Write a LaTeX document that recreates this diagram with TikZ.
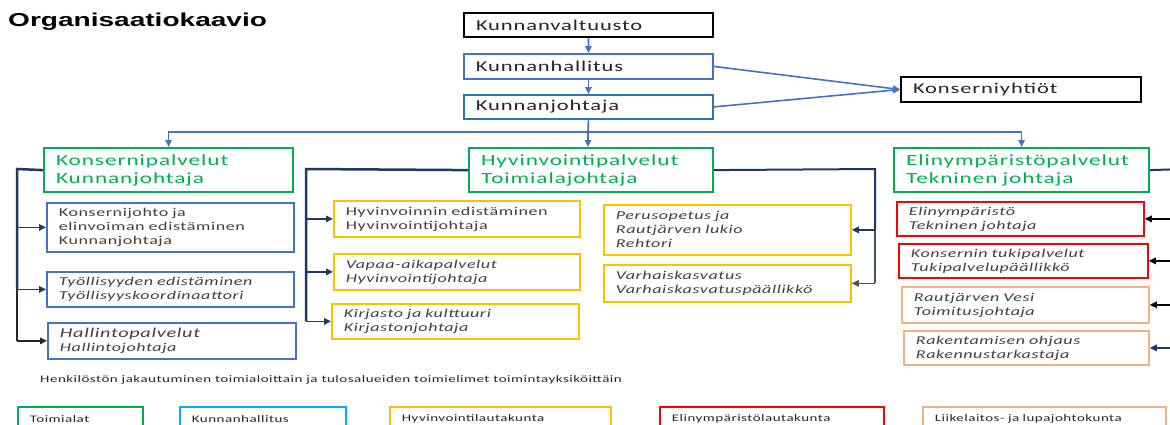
\documentclass[tikz,border=0pt]{standalone}
\usepackage{fontspec}
\usetikzlibrary{arrows.meta}
\newfontfamily\titlefont[FakeStretch=1.5]{Liberation Sans}
\newfontfamily\cbf[FakeStretch=1.5,LetterSpace=6]{Carlito}
\newfontfamily\csf[FakeStretch=1.5,LetterSpace=5]{Carlito}
\definecolor{cblue}{HTML}{4472C4}
\definecolor{cblue2}{HTML}{2E75B6}
\definecolor{cgreen}{HTML}{00B050}
\definecolor{cnavy}{HTML}{1F3864}
\definecolor{cslate}{HTML}{44546A}
\definecolor{cyel}{HTML}{FFC000}
\definecolor{cred}{HTML}{FF0000}
\definecolor{cpeach}{HTML}{F4B183}
\definecolor{clblue}{HTML}{00B0F0}
\definecolor{ctext}{HTML}{404040}
\definecolor{cdark}{HTML}{262626}
\tikzset{
  bx/.style={draw, line width=1.8pt, anchor=north west, inner xsep=12pt, inner ysep=0pt,
    align=left, font=\csf\fontsize{12}{14}\selectfont, text=ctext},
  topbox/.style={bx, font=\cbf\fontsize{15}{18}\selectfont, text=cdark},
  grn/.style={bx, draw=cgreen, line width=2.2pt, text=cgreen, font=\cbf\fontsize{15.5}{18}\selectfont},
  it/.style={font=\csf\itshape\fontsize{12}{14}\selectfont},
  leg/.style={bx, minimum height=24pt, text=cdark, font=\csf\fontsize{10}{12}\selectfont},
  tip/.style={-{Triangle[length=7pt,width=6.5pt]}},
  topline/.style={cblue, line width=1.6pt},
  trunk/.style={cnavy, line width=2.5pt},
  branch/.style={tip, cnavy, line width=1.5pt}
}
\begin{document}
\begin{tikzpicture}[x=1pt,y=-1pt]
\fill[white] (0,0) rectangle (1170,424);
\useasboundingbox (0,0) rectangle (1170,424);

\node[anchor=base west, inner sep=0pt, font=\titlefont\bfseries\fontsize{18.7}{20}\selectfont] (title) at (8,26.5) {Organisaatiokaavio};

% top chain
\node[topbox, draw=black, line width=2pt, text width=225pt, minimum height=24pt] (kv) at (463,12) {Kunnanvaltuusto};
\node[topbox, draw=cblue, text width=225pt, minimum height=25pt] (kh) at (463,53) {Kunnanhallitus};
\node[topbox, draw=cblue2, text width=225pt, minimum height=24pt] (kj) at (463,94) {Kunnanjohtaja};
\node[topbox, draw=black, line width=2pt, text width=216pt, minimum height=25pt] (ky) at (900,76) {Konserniyhtiöt};

% green heads
\node[grn, text width=225pt, minimum height=44pt] (g1) at (43,147) {Konsernipalvelut\\Kunnanjohtaja};
\node[grn, text width=220pt, minimum height=44pt] (g2) at (468,147) {Hyvinvointipalvelut\\Toimialajohtaja};
\node[grn, text width=231pt, minimum height=44pt] (g3) at (893,147) {Elinympäristöpalvelut\\Tekninen johtaja};

% left column
\node[bx, draw=cblue, text width=223pt, minimum height=49pt] (s1) at (46,202) {Konsernijohto ja\\elinvoiman edistäminen\\Kunnanjohtaja};
\node[bx, it, draw=cblue, text width=223pt, minimum height=35pt] (s2) at (46,271) {Työllisyyden edistäminen\\Työllisyyskoordinaattori};
\node[bx, it, draw=cblue, text width=224pt, minimum height=36pt] (s3) at (47,322) {{\fontsize{13.5}{14}\selectfont Hallintopalvelut}\\Hallintojohtaja};

% middle column
\node[bx, draw=cyel, text width=222pt, minimum height=36pt] (m1) at (333,200) {Hyvinvoinnin edistäminen\\Hyvinvointijohtaja};
\node[bx, it, draw=cyel, text width=222pt, minimum height=36pt] (m2) at (333,253) {Vapaa-aikapalvelut\\Hyvinvointijohtaja};
\node[bx, it, draw=cyel, text width=223pt, minimum height=35pt] (m3) at (331,303) {Kirjasto ja kulttuuri\\Kirjastonjohtaja};
\node[bx, it, draw=cyel, text width=223pt, minimum height=50pt] (p1) at (603,204) {Perusopetus ja\\Rautjärven lukio\\Rehtori};
\node[bx, it, draw=cyel, text width=223pt, minimum height=37pt] (p2) at (603,264) {Varhaiskasvatus\\Varhaiskasvatuspäällikkö};

% right column
\node[bx, it, draw=cred, text width=223pt, minimum height=34pt] (r1) at (896,201) {Elinympäristö\\Tekninen johtaja};
\node[bx, it, draw=cred, text width=225pt, minimum height=34pt] (r2) at (898,243) {Konsernin tukipalvelut\\Tukipalvelupäällikkö};
\node[bx, it, draw=cpeach, text width=223pt, minimum height=36pt] (r3) at (901,286) {Rautjärven Vesi\\Toimitusjohtaja};
\node[bx, it, draw=cpeach, text width=221pt, minimum height=34pt] (r4) at (903,330) {Rakentamisen ohjaus\\Rakennustarkastaja};

% top connectors
\draw[topline, tip] (kv.south) -- (kh.north);
\draw[topline, tip] (kh.south) -- (kj.north);
\draw[topline, tip] (kh.east) -- (ky.west);
\draw[topline, tip] (kj.east) -- (ky.west);
\coordinate (hb) at (588,132);
\draw[topline] (kj.south) -- (hb);
\draw[topline, tip] (hb) -| (g1.north);
\draw[topline, tip] (hb) -- (g2.north -| hb);
\draw[topline, tip] (hb) -| (g3.north);

% left trunk
\coordinate (L) at (17,169);
\draw[trunk] (g1.west) -- (L) -- (L |- s2.west);
\draw[trunk, black!85] (L |- s2.west) -- (L |- s3.west);
\draw[branch] (L |- s1.west) -- (s1.west);
\draw[branch] (L |- s2.west) -- (s2.west);
\draw[branch, black!85] (L |- s3.west) -- (s3.west);

% middle-left trunk
\coordinate (M) at (306,169);
\draw[trunk] (g2.west) -- (M) -- (M |- m3.west);
\draw[branch] (M |- m1.west) -- (m1.west);
\draw[branch] (M |- m2.west) -- (m2.west);
\draw[branch] (M |- m3.west) -- (m3.west);

% middle-right trunk
\coordinate (P) at (875,169);
\draw[trunk, line width=2pt] (g2.east) -- (P) -- (P |- p1.east);
\draw[trunk, cslate, line width=2pt] (P |- p1.east) -- (P |- p2.east);
\draw[branch] (P |- p1.east) -- (p1.east);
\draw[branch, cslate] (P |- p2.east) -- (p2.east);

% right trunk (off page)
\coordinate (R) at (1185,169);
\draw[trunk, line width=2pt] (g3.east) -- (R) -- (R |- r4.east);
\draw[branch, black] (R |- r1.east) -- (r1.east);
\draw[branch, black] (R |- r2.east) -- (r2.east);
\draw[branch, black] (R |- r3.east) -- (r3.east);
\draw[branch] (R |- r4.east) -- (r4.east);

% bottom
\node[anchor=base west, inner sep=0pt, text=cdark, font=\csf\fontsize{10}{12}\selectfont] (note) at (40,382) {Henkilöstön jakautuminen toimialoittain ja tulosalueiden toimielimet toimintayksiköittäin};
\node[leg, draw=cgreen, text width=101pt] (l1) at (17,406) {Toimialat};
\node[leg, draw=clblue, text width=142pt] (l2) at (179,406) {Kunnanhallitus};
\node[leg, draw=cyel, text width=197pt] (l3) at (389,406) {Hyvinvointilautakunta};
\node[leg, draw=cred, text width=200pt] (l4) at (659,406) {Elinympäristölautakunta};
\node[leg, draw=cpeach, text width=219pt] (l5) at (922,406) {Liikelaitos- ja lupajohtokunta};
\end{tikzpicture}
\end{document}
